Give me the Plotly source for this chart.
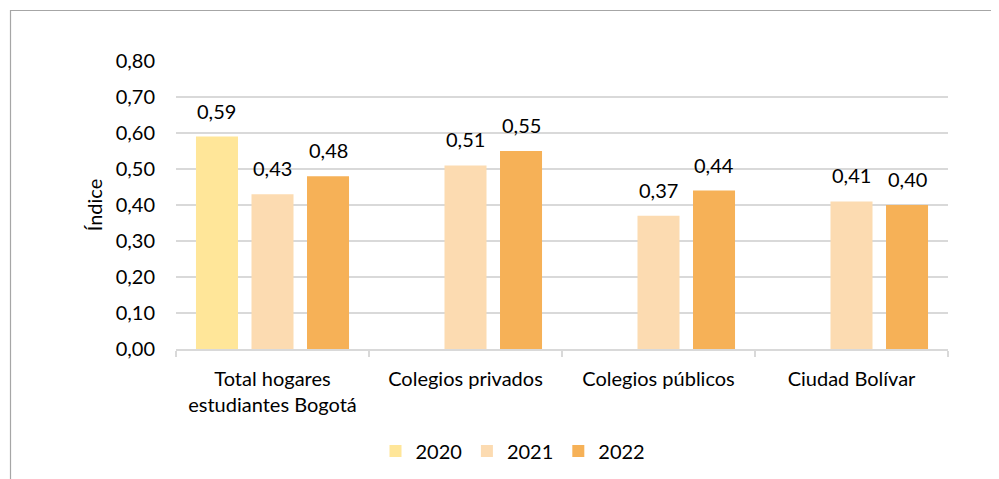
import plotly.graph_objects as go

categories = ["Total hogares<br>estudiantes Bogotá", "Colegios privados", "Colegios públicos", "Ciudad Bolívar"]
years = ["2020", "2021", "2022"]
v2020 = [0.59, None, None, None]
v2021 = [0.43, 0.51, 0.37, 0.41]
v2022 = [0.48, 0.55, 0.44, 0.40]
colors = ["#FFE699", "#FCDBB1", "#F6B157"]
y_ticks = [0.0, 0.1, 0.2, 0.3, 0.4, 0.5, 0.6, 0.7, 0.8]

FONT = "Lato"
FS = 20
OFF = 8  # page body margin
SW, SH = 999, 479
L, R, T, B = 168, 51, 53, 130
W, H = SW - OFF, SH - OFF
pw, ph = W - L - R, H - T - B
BARGAP, GROUPGAP = 0.137, 0.243
slot = pw / len(categories) * (1 - BARGAP) / len(years)

fig = go.Figure()
series = [v2020, v2021, v2022]
for i, (name, vals, col) in enumerate(zip(years, series, colors)):
    fig.add_trace(go.Bar(
        x=categories, y=vals, name=name, marker=dict(color=col, line=dict(width=0)),
        hoverinfo="x+y",
    ))
    for c, v in zip(categories, vals):
        if v is None:
            continue
        fig.add_annotation(x=c, y=v, xref="x", yref="y", text=f"{v:.2f}".replace(".", ","),
                           showarrow=False, yanchor="bottom", xanchor="center",
                           xshift=(i - 1) * slot, yshift=12,
                           font=dict(family=FONT, size=FS, color="#000000"))

def px_x(p):
    return (p - OFF - L) / pw

def px_y(p):
    return (H - B - (p - OFF)) / ph

fig.update_layout(
    width=W, height=H,
    margin=dict(l=L, r=R, t=T, b=B, autoexpand=False),
    paper_bgcolor="white", plot_bgcolor="white",
    separators=",.",
    barmode="group", bargap=BARGAP, bargroupgap=GROUPGAP,
    font=dict(family=FONT, size=FS, color="#000000"),
    showlegend=True,
    legend=dict(orientation="h", x=px_x(513), xanchor="center", y=px_y(451), yanchor="middle",
                font=dict(family=FONT, size=FS, color="#000000"), itemwidth=30,
                traceorder="normal"),
    xaxis=dict(showline=True, linecolor="#D9D9D9", linewidth=1.5, ticks="outside",
               tickson="boundaries", ticklen=6, tickcolor="#D9D9D9", tickwidth=1.5,
               showgrid=False, ticklabelstandoff=11, automargin=False,
               tickfont=dict(family=FONT, size=FS, color="#000000")),
    yaxis=dict(range=[0, 0.8], tickvals=y_ticks, tickformat=".2f", showgrid=True,
               gridcolor="#D9D9D9", gridwidth=1.5, zeroline=False, showline=False,
               ticks="", ticklabelstandoff=20, automargin=False,
               tickfont=dict(family=FONT, size=FS, color="#000000"),
               title=dict(text="Índice", font=dict(family=FONT, size=FS, color="#000000"), standoff=7)),
    shapes=[dict(type="rect", xref="paper", yref="paper",
                 x0=px_x(10.5), x1=px_x(SW + 20), y0=px_y(SH + 20), y1=px_y(10.5),
                 line=dict(color="#A6A6A6", width=1.2), fillcolor="rgba(0,0,0,0)", layer="below")],
)

fig.write_html("out.html")
